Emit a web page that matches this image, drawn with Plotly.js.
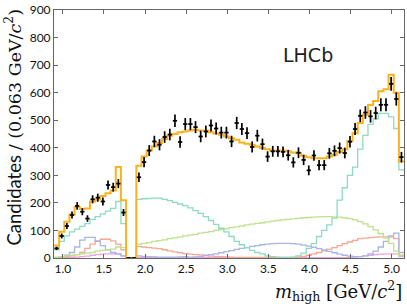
<!DOCTYPE html>
<html><head><meta charset="utf-8">
<script src="https://cdn.plot.ly/plotly-3.0.1.min.js"></script>
<style>html,body{margin:0;padding:0;background:#fff}#c{width:407px;height:304px}</style>
</head><body><div id="c"></div>
<script>
const binStart = 0.893;
const binWidth = 0.0626;
const dataCounts = [35,80,116,156,189,168,143,213,219,205,265,257,270,165,0,0,
 293,348,390,423,411,439,448,498,421,486,486,475,441,459,481,470,455,455,423,490,
 468,453,403,444,413,368,387,387,385,373,347,382,356,318,372,337,337,380,389,399,
 381,422,468,516,528,514,526,556,556,632,577,366];
const totalFit = [45,95,132,158,185,178,180,205,212,225,235,245,330,210,0,0,
 335,368,390,405,417,432,444,450,456,459,463,465,463,463,456,452,447,441,435,429,
 419,415,411,405,399,395,390,390,390,387,383,381,371,366,362,362,362,368,375,385,
 395,425,453,490,520,555,570,605,612,665,600,350];
const compTeal = [30,60,80,95,105,115,125,140,150,160,170,180,205,125,0,0,
 213,215,216,217,217,213,208,202,196,190,182,172,162,150,136,122,108,95,78,60,
 48,38,28,20,15,8,5,3,2,2,3,8,18,35,52,78,
 100,120,145,210,255,300,330,395,445,485,505,525,525,512,470,320];
const compGreen = [2,5,8,10,12,15,18,20,25,28,30,32,40,38,0,0,
 50,53,56,60,63,66,70,73,76,80,83,86,90,93,96,100,103,106,110,113,
 116,120,123,126,128,131,134,136,138,140,142,144,146,147,148,149,
 150,150,149,148,146,143,138,132,124,114,102,88,72,53,25,8];
const compBlue = [2,5,10,20,40,65,75,75,60,45,30,20,15,8,0,0,
 8,6,5,4,3,3,3,3,4,5,3,4,6,9,12,15,19,23,27,31,
 35,38,42,45,48,50,52,53,53,53,52,50,47,43,39,34,
 29,24,19,14,10,7,5,5,8,15,25,40,60,80,90,20];
const compSalmon = [1,3,5,8,12,20,35,50,62,68,68,62,50,30,0,0,
 42,40,38,36,34,30,26,22,19,16,14,12,11,9,7,6,5,4,3,2,
 2,2,2,2,2,2,2,2,2,2,2,3,6,10,15,20,
 26,32,38,45,52,58,64,70,72,74,76,77,77,76,70,10];
const compPink = [0,0,1,2,3,5,7,10,12,14,15,15,14,8,0,0,
 2,2,2,2,1,1,1,1,1,1,1,1,1,1,1,1,1,1,1,1,
 1,1,1,1,1,1,1,1,1,1,1,1,1,1,1,1,
 1,1,1,1,1,2,3,5,8,10,12,14,15,15,15,5];
const xTicks = [1.0,1.5,2.0,2.5,3.0,3.5,4.0,4.5,5.0];
const yTicks = [0,100,200,300,400,500,600,700,800,900];

const nBins = dataCounts.length;
const centers = dataCounts.map((_, i) => binStart + binWidth * (i + 0.5));
const edges = Array.from({length: nBins + 1}, (_, i) => binStart + binWidth * i);
const xMax = edges[nBins];

function stepTrace(vals, color, width) {
  return {x: edges, y: vals.concat([vals[vals.length - 1]]), type: 'scatter', mode: 'lines',
    line: {shape: 'hv', color: color, width: width}, hoverinfo: 'skip', showlegend: false};
}
const traces = [
  stepTrace(compPink, '#eaa6de', 1.3),
  stepTrace(compSalmon, '#f6a992', 1.3),
  stepTrace(compBlue, '#a9b5e6', 1.3),
  stepTrace(compGreen, '#bde38e', 1.3),
  stepTrace(compTeal, '#8fdbc0', 1.3),
  stepTrace(totalFit, '#fcb21e', 2),
  {x: centers, y: dataCounts, type: 'scatter', mode: 'markers',
   marker: {size: 2, color: '#000'},
   error_y: {type: 'data', array: dataCounts.map(v => Math.sqrt(v)), color: '#000', thickness: 1.7, width: 0},
   error_x: {type: 'constant', value: binWidth * 0.42, color: '#000', thickness: 1.7, width: 0},
   showlegend: false, hoverinfo: 'skip'}
];

const axisCommon = {showgrid: false, zeroline: false, showline: true, linecolor: '#666', linewidth: 1,
  mirror: 'ticks', ticks: 'inside', ticklen: 4, tickcolor: '#666',
  tickfont: {family: 'Lato, sans-serif', size: 12, color: '#111'}};

const serif = 'font-family:DejaVu Serif,serif;font-size:17.5px';
const layout = {
  width: 407, height: 304,
  margin: {l: 54, r: 3, t: 10, b: 46},
  paper_bgcolor: '#fff', plot_bgcolor: '#fff',
  xaxis: Object.assign({}, axisCommon, {range: [binStart, xMax], tickvals: xTicks,
    ticktext: xTicks.map(v => v.toFixed(1))}),
  yaxis: Object.assign({}, axisCommon, {range: [0, 900], tickvals: yTicks}),
  annotations: [
    {text: 'LHCb', x: 0.726, y: 0.82, xref: 'paper', yref: 'paper', showarrow: false,
     xanchor: 'center', yanchor: 'middle', font: {family: 'DejaVu Sans, sans-serif', size: 19, color: '#222'}},
    {text: '<i>m</i><sub>high</sub> [GeV/<i>c</i><sup>2</sup>]', x: 1, y: -0.132, xref: 'paper', yref: 'paper',
     showarrow: false, xanchor: 'right', yanchor: 'middle',
     font: {family: 'DejaVu Serif, serif', size: 18, color: '#111'}},
    {text: 'Candidates <span style="' + serif + '">/ (0.063 GeV/<i>c</i><sup>2</sup>)</span>',
     x: 0, y: 1.01, xref: 'paper', yref: 'paper',
     xshift: -41, showarrow: false, textangle: -90, xanchor: 'center', yanchor: 'top',
     font: {family: 'Lato, sans-serif', size: 18.5, color: '#111'}}
  ]
};
Plotly.newPlot('c', traces, layout, {staticPlot: true, displayModeBar: false});
</script>
</body></html>
